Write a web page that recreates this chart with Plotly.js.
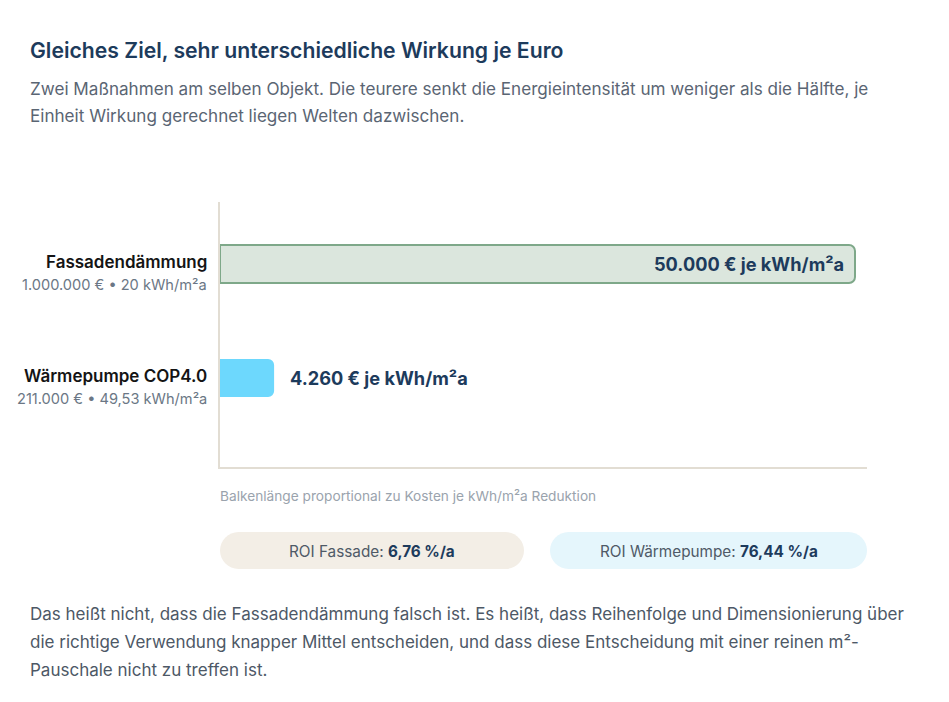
<!DOCTYPE html>
<html>
<head>
<meta charset="utf-8">
<script src="https://cdn.plot.ly/plotly-3.0.1.min.js"></script>
<style>html,body{margin:0;padding:0;background:#fff;}#chart{width:949px;height:702px;}</style>
</head>
<body>
<div id="chart"></div>
<script>
// ---- data ----
const categories = ['Fassadendämmung', 'Wärmepumpe COP4.0'];
const investCost = [1000000, 211000];            // €
const reduction = [20, 49.53];                   // kWh/m²a
const costPerUnit = [50000, 4260];               // € je kWh/m²a
const valueLabels = ['50.000 € je kWh/m²a', '4.260 € je kWh/m²a'];
const subLabels = ['1.000.000 € • 20 kWh/m²a', '211.000 € • 49,53 kWh/m²a'];
const roiNames = ['ROI Fassade', 'ROI Wärmepumpe'];
const roiValues = ['6,76 %/a', '76,44 %/a'];

const titleText = 'Gleiches Ziel, sehr unterschiedliche Wirkung je Euro';
const subtitleLines = [
  'Zwei Maßnahmen am selben Objekt. Die teurere senkt die Energieintensität um weniger als die Hälfte, je',
  'Einheit Wirkung gerechnet liegen Welten dazwischen.'
];
const noteText = 'Balkenlänge proportional zu Kosten je kWh/m²a Reduktion';
const paragraphLines = [
  'Das heißt nicht, dass die Fassadendämmung falsch ist. Es heißt, dass Reihenfolge und Dimensionierung über',
  'die richtige Verwendung knapper Mittel entscheiden, und dass diese Entscheidung mit einer reinen m²-',
  'Pauschale nicht zu treffen ist.'
];

// ---- style ----
const W = 949, H = 702;
const px = x => x / W;
const py = y => 1 - y / H;
const FONT = 'Inter, "Noto Sans", sans-serif';
const NAVY = '#1d3b5c';
const GREY = '#5a6573';
const barFill = ['#dbe6dd', '#6dd8fd'];
const barLine = ['#7ea889', '#6dd8fd'];
const barLineW = [2, 0];
const pillFill = ['#f3eee6', '#e5f6fc'];
const pillBox = [[220, 532, 524, 569], [550, 532, 867, 569]];

function roundRect(x0, y0, x1, y1, r) {
  const P = (x, y) => px(x) + ',' + py(y);
  return 'M' + P(x0 + r, y0) + ' L' + P(x1 - r, y0) + ' C' + P(x1 - r * 0.45, y0) + ' ' + P(x1, y0 + r * 0.45) + ' ' + P(x1, y0 + r) +
    ' L' + P(x1, y1 - r) + ' C' + P(x1, y1 - r * 0.45) + ' ' + P(x1 - r * 0.45, y1) + ' ' + P(x1 - r, y1) +
    ' L' + P(x0 + r, y1) + ' C' + P(x0 + r * 0.45, y1) + ' ' + P(x0, y1 - r * 0.45) + ' ' + P(x0, y1 - r) +
    ' L' + P(x0, y0 + r) + ' C' + P(x0, y0 + r * 0.45) + ' ' + P(x0 + r * 0.45, y0) + ' ' + P(x0 + r, y0) + ' Z';
}

const trace = {
  type: 'bar',
  orientation: 'h',
  x: costPerUnit,
  y: categories,
  width: 0.333,
  marker: { color: barFill, line: { color: barLine, width: barLineW }, cornerradius: 6 },
  hoverinfo: 'skip',
  textposition: 'none'
};

const annotations = [];
const txt = (text, x, y, size, color, anchor, weight) => ({
  text: text, xref: 'paper', yref: 'paper', x: px(x), y: py(y), xanchor: anchor || 'left', yanchor: 'middle',
  showarrow: false, font: { family: FONT, size: size, color: color, weight: weight || 400 }
});

annotations.push(txt(titleText, 28, 50, 21.2, NAVY, 'left', 600));
subtitleLines.forEach((l, i) => annotations.push(txt(l, 28, 88 + i * 27, 17.1, GREY)));
paragraphLines.forEach((l, i) => annotations.push(txt(l, 28, 614 + i * 28, 17, '#4d5866')));
annotations.push(txt(noteText, 218, 496, 13.7, '#9aa3ad'));

categories.forEach((c, i) => {
  annotations.push({ text: c, xref: 'paper', yref: 'y', x: px(209), y: c, yshift: 2,
    xanchor: 'right', yanchor: 'middle', showarrow: false, font: { family: FONT, size: 17, color: '#141414', weight: 600 } });
  annotations.push({ text: subLabels[i], xref: 'paper', yref: 'y', x: px(209), y: c, yshift: -21,
    xanchor: 'right', yanchor: 'middle', showarrow: false, font: { family: FONT, size: 14.6, color: '#6b7785' } });
  const inside = costPerUnit[i] > 0.5 * Math.max(...costPerUnit);
  annotations.push({ text: '<b>' + valueLabels[i] + '</b>', xref: 'x', yref: 'y', x: costPerUnit[i], y: c,
    xanchor: inside ? 'right' : 'left', xshift: inside ? -9 : 14, yanchor: 'middle', showarrow: false,
    font: { family: FONT, size: 18.2, color: NAVY } });
});

const shapes = [];
roiNames.forEach((n, i) => {
  const b = pillBox[i];
  shapes.push({ type: 'path', xref: 'paper', yref: 'paper', path: roundRect(b[0], b[1], b[2], b[3], 18.5),
    fillcolor: pillFill[i], line: { width: 0 }, layer: 'below' });
  annotations.push(txt(n + ': <b><span style="color:' + NAVY + '">' + roiValues[i] + '</span></b>', (b[0] + b[2]) / 2, (b[1] + b[3]) / 2 + 1,
    15.3, '#4f5a67', 'center'));
});

const xMax = costPerUnit[0] * 647 / 635;
const layout = {
  width: W, height: H,
  margin: { l: 0, r: 0, t: 0, b: 0 },
  paper_bgcolor: '#ffffff', plot_bgcolor: '#ffffff',
  showlegend: false,
  font: { family: FONT },
  xaxis: { domain: [px(220), px(867)], range: [0, xMax], showgrid: false, zeroline: false,
    showticklabels: false, ticks: '', showline: true, linecolor: '#e2ddd3', linewidth: 2, fixedrange: true },
  yaxis: { domain: [py(467), py(202)], type: 'category', categoryarray: categories,
    range: [1.78, -0.544], showgrid: false, zeroline: false, showticklabels: false, ticks: '',
    showline: true, linecolor: '#e2ddd3', linewidth: 2, fixedrange: true },
  annotations: annotations,
  shapes: shapes,
  bargap: 0
};

Plotly.newPlot('chart', [trace], layout, { displayModeBar: false, staticPlot: true });
</script>
</body>
</html>
